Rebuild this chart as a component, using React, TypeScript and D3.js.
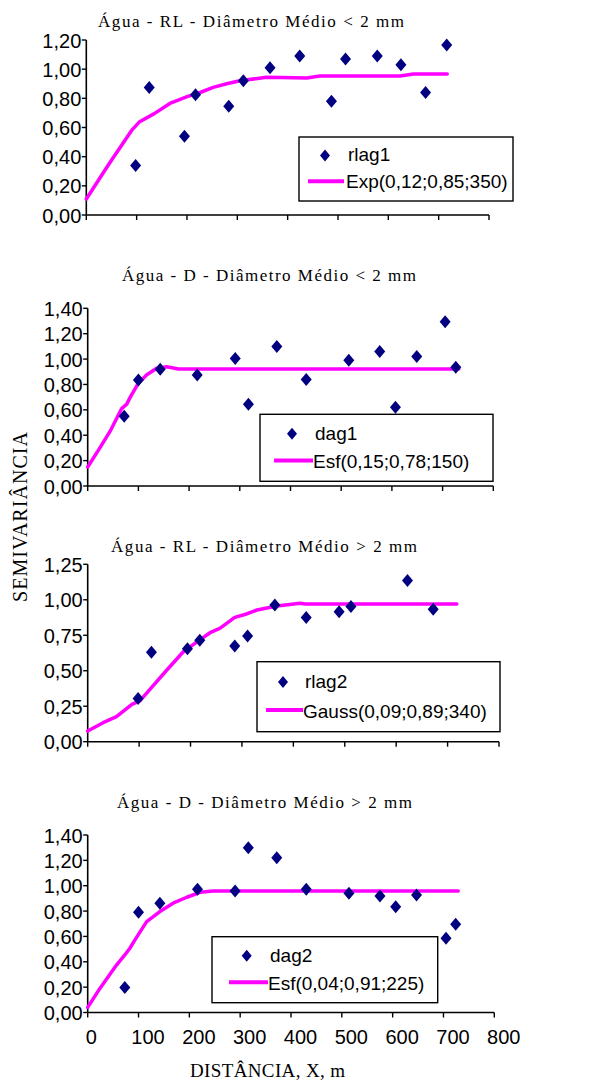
import React from "react";
import * as d3 from "d3";

// lag distances (m) and semivariances
const rlag1X = [98, 125, 195, 217, 283, 312, 365, 424, 487, 515, 578, 625, 674, 716];
const rlag1Y = [0.34, 0.875, 0.54, 0.825, 0.745, 0.92, 1.01, 1.09, 0.78, 1.07, 1.09, 1.03, 0.84, 1.165];
const expX = [0, 45, 90, 106, 135, 166, 199, 226, 252, 279, 305, 358, 438, 464, 623, 650, 717];
const expY = [0.11, 0.35, 0.58, 0.64, 0.695, 0.765, 0.81, 0.84, 0.875, 0.9, 0.92, 0.945, 0.94, 0.953, 0.953, 0.967, 0.967];

const dag1X = [72, 100, 143, 216, 291, 317, 373, 431, 515, 576, 607, 649, 705, 726];
const dag1Y = [0.55, 0.835, 0.92, 0.875, 1.005, 0.645, 1.1, 0.84, 0.99, 1.06, 0.62, 1.02, 1.295, 0.935];
const esf1X = [0, 24, 44, 67, 77, 84, 100, 116, 136, 156, 179, 732];
const esf1Y = [0.15, 0.3, 0.43, 0.61, 0.645, 0.7, 0.81, 0.875, 0.927, 0.94, 0.922, 0.922];

const rlag2X = [98, 124, 194, 218, 286, 311, 364, 425, 489, 512, 622, 672];
const rlag2Y = [0.305, 0.63, 0.655, 0.715, 0.675, 0.745, 0.963, 0.876, 0.916, 0.952, 1.135, 0.933];
const gaussX = [0, 30, 56, 86, 102, 121, 154, 186, 218, 238, 257, 286, 309, 329, 368, 413, 423, 718];
const gaussY = [0.075, 0.134, 0.176, 0.263, 0.289, 0.369, 0.505, 0.634, 0.717, 0.768, 0.799, 0.876, 0.9, 0.928, 0.956, 0.975, 0.97, 0.97];

const dag2X = [73, 100, 142, 216, 290, 316, 372, 430, 514, 575, 606, 647, 705, 724];
const dag2Y = [0.197, 0.79, 0.862, 0.972, 0.959, 1.3, 1.22, 0.972, 0.94, 0.919, 0.835, 0.927, 0.586, 0.696];
const esf2X = [0, 24, 57, 73, 83, 93, 116, 142, 168, 195, 221, 247, 729];
const esf2Y = [0.04, 0.19, 0.376, 0.454, 0.507, 0.573, 0.717, 0.796, 0.862, 0.909, 0.948, 0.959, 0.959];

const titles = [
  "Água - RL - Diâmetro Médio < 2 mm",
  "Água - D - Diâmetro Médio < 2 mm",
  "Água - RL - Diâmetro Médio > 2 mm",
  "Água - D - Diâmetro Médio > 2 mm",
];
const seriesNames = ["rlag1", "dag1", "rlag2", "dag2"];
const modelNames = ["Exp(0,12;0,85;350)", "Esf(0,15;0,78;150)", "Gauss(0,09;0,89;340)", "Esf(0,04;0,91;225)"];
const yMaxes = [1.2, 1.4, 1.25, 1.4];
const ySteps = [0.2, 0.2, 0.25, 0.2];
const xTicks = [0, 100, 200, 300, 400, 500, 600, 700, 800];

const pointsX = [rlag1X, dag1X, rlag2X, dag2X];
const pointsY = [rlag1Y, dag1Y, rlag2Y, dag2Y];
const modelX = [expX, esf1X, gaussX, esf2X];
const modelY = [expY, esf1Y, gaussY, esf2Y];

// pixel layout of each panel
const layout = [
  { x0: 86.3, x1: 489, yb: 215, yt: 40, tx: 251, ty: 26.5, tw: 306, lg: { x: 299, y: 137, w: 214, h: 64, mx: 325, lx0: 308, lx1: 344, tx: 346 } },
  { x0: 87.7, x1: 493.3, yb: 486, yt: 308.3, tx: 269, ty: 281, tw: 294, lg: { x: 260, y: 414.3, w: 233, h: 67, mx: 292, lx0: 274, lx1: 313, tx: 313 } },
  { x0: 87.7, x1: 499, yb: 741.7, yt: 564.3, tx: 264, ty: 551.5, tw: 306, lg: { x: 257, y: 661.7, w: 243, h: 70, mx: 283, lx0: 266, lx1: 303, tx: 303 } },
  { x0: 87.7, x1: 494.3, yb: 1012.5, yt: 835, tx: 264.5, ty: 807.5, tw: 295, lg: { x: 212, y: 936.7, w: 225.7, h: 66, mx: 246.7, lx0: 229, lx1: 268, tx: 268 } },
];

const NAVY = "#000080";
const MAGENTA = "#ff00ff";
const SANS = "'Liberation Sans', Arial, sans-serif";
const SERIF = "'Liberation Serif', 'Times New Roman', serif";

const diamond = (cx: number, cy: number, w = 5.5, h = 6.5) =>
  `M${cx},${cy - h}L${cx + w},${cy}L${cx},${cy + h}L${cx - w},${cy}Z`;

const fmt = (v: number) => v.toFixed(2).replace(".", ",");

function Panel({ i }: { i: number }) {
  const L = layout[i];
  const x = d3.scaleLinear().domain([0, 800]).range([L.x0, L.x1]);
  const y = d3.scaleLinear().domain([0, yMaxes[i]]).range([L.yb, L.yt]);
  const yTicks = d3.range(0, yMaxes[i] + 1e-6, ySteps[i]);
  const line = d3
    .line<number>()
    .x((d) => x(d))
    .y((_, k) => y(modelY[i][k]));
  const lg = L.lg;
  return (
    <g>
      <text x={L.tx} y={L.ty} textAnchor="middle" fontFamily={SERIF} fontSize={17}
        textLength={L.tw} lengthAdjust="spacing">{titles[i]}</text>
      {/* axes */}
      <line x1={L.x0} x2={L.x1} y1={L.yb} y2={L.yb} stroke="#000" strokeWidth={1.6} />
      <line x1={L.x0} x2={L.x0} y1={L.yb} y2={L.yt} stroke="#000" strokeWidth={1.6} />
      {xTicks.map((t) => (
        <line key={t} x1={x(t)} x2={x(t)} y1={L.yb} y2={L.yb + 5} stroke="#000" strokeWidth={1.4} />
      ))}
      {yTicks.map((t) => (
        <g key={t}>
          <line x1={L.x0 - 4.5} x2={L.x0} y1={y(t)} y2={y(t)} stroke="#000" strokeWidth={1.4} />
          <text x={L.x0 - 5} y={y(t) + 7.5} textAnchor="end" fontFamily={SANS} fontSize={20}>{fmt(t)}</text>
        </g>
      ))}
      {i === 3 &&
        xTicks.map((t) => (
          <text key={"l" + t} x={x(t) + (t === 0 ? 3.5 : 9.5)} y={1044} textAnchor="middle"
            fontFamily={SANS} fontSize={20}>{t}</text>
        ))}
      {/* model curve */}
      <path d={line(modelX[i]) || ""} fill="none" stroke={MAGENTA} strokeWidth={3.5}
        strokeLinejoin="round" strokeLinecap="round" />
      {/* observed semivariances */}
      {pointsX[i].map((d, k) => (
        <path key={k} d={diamond(x(d), y(pointsY[i][k]))} fill={NAVY} />
      ))}
      {/* legend */}
      <rect x={lg.x} y={lg.y} width={lg.w} height={lg.h} fill="#fff" stroke="#000" strokeWidth={1.4} />
      <path d={diamond(lg.mx, lg.y + lg.h * 0.29, 5, 6)} fill={NAVY} />
      <text x={lg.tx + 2} y={lg.y + lg.h * 0.38} fontFamily={SANS} fontSize={19}>{seriesNames[i]}</text>
      <line x1={lg.lx0} x2={lg.lx1} y1={lg.y + lg.h * 0.69} y2={lg.y + lg.h * 0.69}
        stroke={MAGENTA} strokeWidth={4} />
      <text x={lg.tx} y={lg.y + lg.h * 0.8} fontFamily={SANS} fontSize={19}>{modelNames[i]}</text>
    </g>
  );
}

export default function App() {
  return (
    <svg width={590} height={1082} style={{ position: "absolute", left: 0, top: 0, background: "#fff" }}>
      {layout.map((_, i) => (
        <Panel key={i} i={i} />
      ))}
      <text transform="translate(26.5,517) rotate(-90)" textAnchor="middle" fontFamily={SERIF}
        fontSize={20} textLength={170} lengthAdjust="spacing">SEMIVARIÂNCIA</text>
      <text x={267.5} y={1076.5} textAnchor="middle" fontFamily={SERIF} fontSize={19}
        textLength={155} lengthAdjust="spacing">DISTÂNCIA, X, m</text>
    </svg>
  );
}
